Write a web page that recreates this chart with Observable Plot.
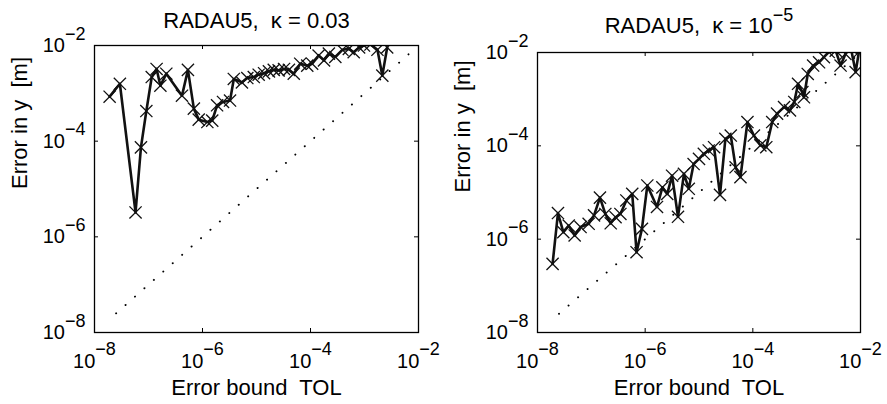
<!DOCTYPE html>
<html><head><meta charset="utf-8">
<script src="https://cdn.jsdelivr.net/npm/d3@7"></script>
<script src="https://cdn.jsdelivr.net/npm/@observablehq/plot@0.6"></script>
<style>
body{margin:0;background:#fff;}
#wrap{display:flex;width:887px;height:404px;overflow:hidden;}
</style></head><body><div id="wrap"></div>
<script>
// tick values
const xTicks = [1e-8, 1e-6, 1e-4, 1e-2];
const yTicks = [1e-8, 1e-6, 1e-4, 1e-2];
const innerTicks = [1e-6, 1e-4];
const xLabel = "Error bound\u00a0 TOL";
const yLabel = "Error in y\u00a0 [m]";
const titleLeft = "RADAU5,\u00a0 \u03ba = 0.03";
const titleRight = "RADAU5,\u00a0 \u03ba = 10^\u22125";
// reference line TOL = error (exponents of 10)
const refExp = [-7.6, -2.05];

// left panel (kappa = 0.03): log10 of TOL and of error
const leftTolExp = [-7.72, -7.53, -7.24, -7.14, -7.04, -6.94, -6.85, -6.78, -6.67, -6.38, -6.27, -6.16, -6.07, -5.91, -5.82, -5.73, -5.62, -5.49, -5.42, -5.27, -5.17, -5.05, -4.96, -4.86, -4.77, -4.68, -4.59, -4.49, -4.40, -4.31, -4.19, -4.06, -3.97, -3.85, -3.75, -3.66, -3.54, -3.41, -3.29, -3.20, -3.10, -3.01, -2.89, -2.76, -2.67, -2.58];
const leftErrExp = [-3.07, -2.80, -5.49, -4.13, -3.37, -2.66, -2.49, -2.84, -2.59, -3.05, -2.51, -3.32, -3.55, -3.60, -3.57, -3.25, -3.18, -3.15, -2.70, -2.77, -2.68, -2.66, -2.61, -2.58, -2.54, -2.51, -2.52, -2.49, -2.51, -2.59, -2.38, -2.42, -2.38, -2.21, -2.31, -2.17, -2.24, -2.09, -2.07, -2.14, -2.04, -2.00, -1.98, -2.09, -2.63, -2.04];

// right panel (kappa = 1e-5)
const rightTolExp = [-7.72, -7.62, -7.52, -7.42, -7.31, -7.20, -7.05, -6.95, -6.84, -6.74, -6.64, -6.55, -6.46, -6.35, -6.24, -6.16, -6.06, -5.96, -5.78, -5.68, -5.59, -5.50, -5.39, -5.28, -5.19, -5.10, -5.00, -4.91, -4.82, -4.72, -4.61, -4.51, -4.41, -4.32, -4.23, -4.10, -3.98, -3.86, -3.75, -3.64, -3.55, -3.42, -3.31, -3.23, -3.16, -3.08, -3.05, -2.98, -2.88, -2.77, -2.68, -2.59, -2.46, -2.37, -2.28, -2.18, -2.09, -2.03];
const rightErrExp = [-6.53, -5.44, -5.85, -5.71, -5.92, -5.74, -5.67, -5.49, -5.11, -5.46, -5.66, -5.53, -5.46, -5.17, -5.03, -6.28, -5.78, -4.85, -5.31, -4.89, -5.03, -4.64, -5.52, -4.60, -4.92, -4.39, -4.28, -4.17, -4.10, -4.03, -5.05, -3.85, -3.78, -4.46, -4.67, -3.49, -3.78, -3.99, -4.03, -3.49, -3.31, -3.17, -3.24, -3.06, -2.67, -2.85, -2.96, -2.46, -2.28, -2.21, -2.10, -1.99, -1.96, -2.28, -2.03, -1.90, -2.42, -1.99];

function supify(svg) {
  svg.querySelectorAll("text").forEach(t => {
    if (t.children.length) return;
    const s = t.textContent;
    const k = s.indexOf("^");
    if (k < 0) return;
    const big = parseFloat(t.getAttribute("font-size") || "20");
    t.textContent = s.slice(0, k);
    const ts = document.createElementNS("http://www.w3.org/2000/svg", "tspan");
    ts.setAttribute("dy", big > 21 ? "-0.6em" : "-0.68em");
    ts.setAttribute("font-size", "18px");
    ts.textContent = s.slice(k + 1);
    t.appendChild(ts);
  });
}

function panel({tolExp, errExp, title, width, marginLeft, marginRight, marginTop, titleDy}) {
  const data = tolExp.map((t, i) => ({tol: 10 ** t, err: 10 ** errExp[i]}));
  const ref = refExp.map(t => ({tol: 10 ** t, err: 10 ** t}));
  const H = 404, mb = 72;
  const iw = width - marginLeft - marginRight, ih = H - marginTop - mb;
  const fmt = d => "10^\u2212" + (-Math.round(Math.log10(d)));
  const svg = Plot.plot({
    width, height: H, marginLeft, marginRight, marginTop, marginBottom: mb,
    style: {fontFamily: "'Liberation Sans', Arial, sans-serif", fontSize: "20px", background: "white", color: "black", overflow: "visible"},
    x: {type: "log", domain: [1e-8, 1e-2], axis: null},
    y: {type: "log", domain: [1e-8, 1e-2], axis: null},
    marks: [
      Plot.line(ref, {x: "tol", y: "err", stroke: "black", strokeWidth: 1.9, strokeDasharray: "0.1 12.5", strokeLinecap: "round"}),
      Plot.line(data, {x: "tol", y: "err", stroke: "#111", strokeWidth: 2.6, clip: true}),
      Plot.dot(data, {x: "tol", y: "err", symbol: "times", r: 5.6, stroke: "#111", fill: "none", strokeWidth: 1.3, clip: true}),
      Plot.tickX(innerTicks, {x: d => d, insetTop: ih - 4, stroke: "black"}),
      Plot.tickX(innerTicks, {x: d => d, insetBottom: ih - 4, stroke: "black"}),
      Plot.tickY(innerTicks, {y: d => d, insetRight: iw - 4, stroke: "black"}),
      Plot.tickY(innerTicks, {y: d => d, insetLeft: iw - 4, stroke: "black"}),
      Plot.frame({stroke: "black", strokeWidth: 1.3}),
      Plot.text(xTicks, {x: d => d, frameAnchor: "bottom", text: fmt, lineAnchor: "top", dy: 21, fontSize: 20}),
      Plot.text(yTicks, {y: d => d, frameAnchor: "left", text: fmt, textAnchor: "end", dx: -9, fontSize: 20}),
      Plot.text([title], {text: d => d, frameAnchor: "top", lineAnchor: "middle", dy: titleDy, fontSize: 22}),
      Plot.text([xLabel], {text: d => d, frameAnchor: "bottom", lineAnchor: "middle", dy: 55, fontSize: 22}),
      Plot.text([yLabel], {text: d => d, frameAnchor: "left", rotate: -90, lineAnchor: "middle", dx: -75, fontSize: 22})
    ]
  });
  supify(svg);
  return svg;
}

const wrap = document.getElementById("wrap");
wrap.appendChild(panel({tolExp: leftTolExp, errExp: leftErrExp, title: titleLeft, width: 443, marginLeft: 94, marginRight: 25, marginTop: 45, titleDy: -25}));
wrap.appendChild(panel({tolExp: rightTolExp, errExp: rightErrExp, title: titleRight, width: 444, marginLeft: 94, marginRight: 27, marginTop: 52, titleDy: -26.5}));
</script></body></html>
